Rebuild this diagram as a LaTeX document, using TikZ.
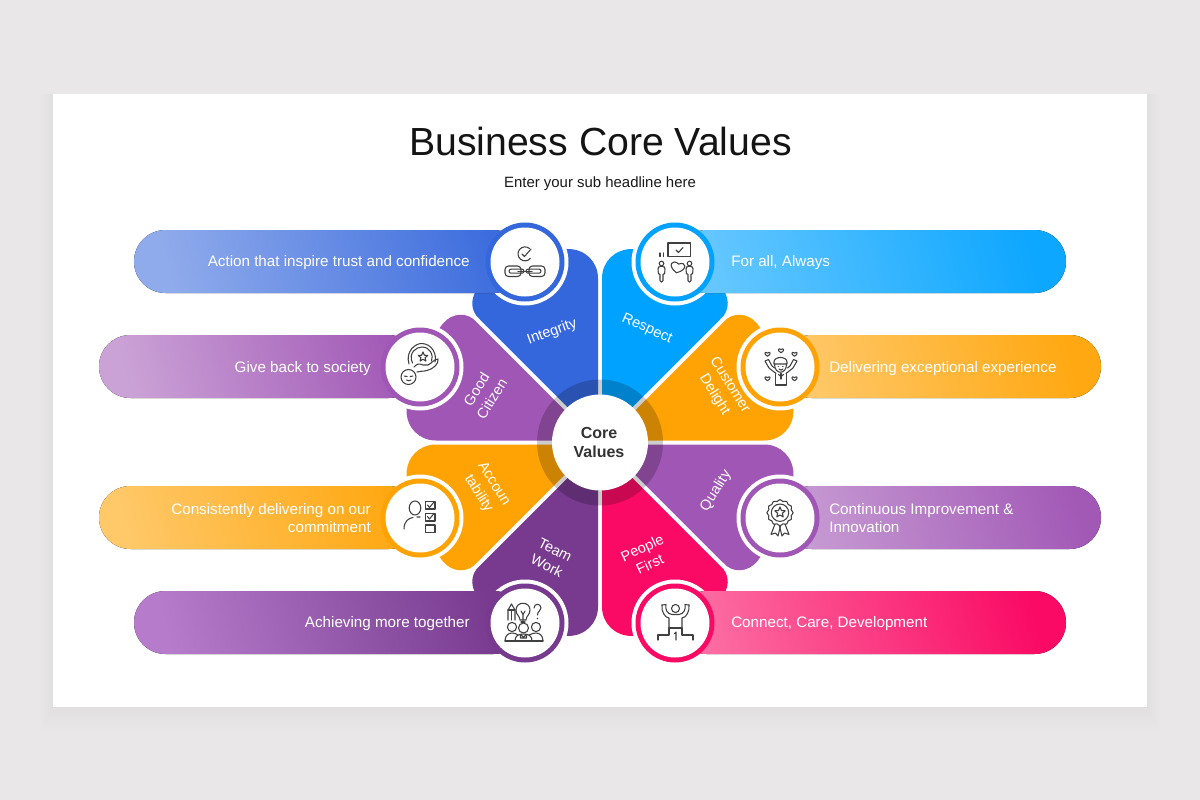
\documentclass[tikz,border=0pt]{standalone}
\usepackage{fontspec}
\setmainfont{Liberation Sans}
\definecolor{pageg}{HTML}{E9E7E8}
\definecolor{icon}{HTML}{404040}
\definecolor{cBlue}{HTML}{3567DC}
\definecolor{cSky}{HTML}{00A2FF}
\definecolor{cOrange}{HTML}{FFA304}
\definecolor{cPurple}{HTML}{A056B5}
\definecolor{cPink}{HTML}{FA0A64}
\definecolor{cDeep}{HTML}{773A8F}
\definecolor{lDeep}{HTML}{B67CCB}
\tikzset{
  ic/.style={draw=icon,line width=.8pt,line join=round,line cap=round},
  bartext/.style={text=white,font=\fontsize{11.4pt}{13.9pt}\selectfont,inner sep=0pt},
  petaltext/.style={text=white,font=\fontsize{10.9pt}{13.6pt}\selectfont,align=center,inner sep=0pt},
  barshape/.style={shading angle=105,rounded corners=23.6pt},
}
\newcommand{\petalshape}[4]{%
  \begin{scope}[shift={(600,442.5)},xscale=#2,yscale=#3,cm={#4,(0,0)}]
    \fill[#1] (-2,-5) -- (-2,-164) .. controls (-2,-181) and (-15,-193.5) .. (-32,-193.5)
      .. controls (-60,-193.5) and (-92,-178) .. (-119,-157)
      .. controls (-130,-148) and (-131,-132) .. (-120,-123) -- cycle;
  \end{scope}}
\newcommand{\ringdisc}[3]{%
  \fill[#3] (#1,#2) circle[radius=39.5];
  \fill[white] (#1,#2) circle[radius=34.5];}
\newcommand{\whitering}[2]{\fill[white] (#1,#2) circle[radius=43.5];}
\newcommand{\icstar}[3]{%
  \draw[ic] plot[samples at={0,1,...,9},variable=\t]
   ({#1+(mod(\t,2)==0?#3:#3*.45)*cos(-90+36*\t)},{#2+(mod(\t,2)==0?#3:#3*.45)*sin(-90+36*\t)}) -- cycle;}
\newcommand{\icheart}[3]{%
  \begin{scope}[shift={(#1,#2)}]
  \draw[ic] (0,#3*.9) .. controls (-1.7*#3,-.1*#3) and (-.9*#3,-1.2*#3) .. (0,-.35*#3)
     .. controls (.9*#3,-1.2*#3) and (1.7*#3,-.1*#3) .. (0,#3*.9);
  \end{scope}}
\newcommand{\icperson}[2]{%
  \draw[ic] (#1,#2-6.5) circle[radius=2.3];
  \draw[ic,rounded corners=1pt] (#1-1.5,#2+12) -- (#1-1.5,#2+3) -- (#1-3,#2+5) -- (#1-3.6,#2-2.5) -- (#1-2,#2-3.6) -- (#1+2,#2-3.6) -- (#1+3.6,#2-2.5) -- (#1+3,#2+5) -- (#1+1.5,#2+3) -- (#1+1.5,#2+12) -- cycle;}
\begin{document}
\begin{tikzpicture}[x=0.75pt,y=-0.75pt]
\useasboundingbox (0,0) rectangle (1200,800);
\fill[pageg] (0,0) rectangle (1200,800);
% card shadow
\foreach \d in {16,14,...,2}{
  \fill[black,opacity=.005] (53-\d*.8,94) rectangle (1147+\d*.8,707+\d*1.5);}
\fill[white] (53,94) rectangle (1147,707);
% titles
\node[inner sep=0pt,text=black!92,font=\fontsize{29.4pt}{33pt}\selectfont] (title) at (600.5,141.5) {Business Core Values};
\node[inner sep=0pt,text=black!90,font=\fontsize{11.2pt}{13pt}\selectfont] (subtitle) at (600,184) {Enter your sub headline here};
% petals
\petalshape{cBlue}{1}{1}{1,0,0,1}
\petalshape{cPurple}{1}{1}{0,-1,-1,0}
\petalshape{cSky}{-1}{1}{1,0,0,1}
\petalshape{cOrange}{-1}{1}{0,-1,-1,0}
\petalshape{cDeep}{1}{-1}{1,0,0,1}
\petalshape{cOrange}{1}{-1}{0,-1,-1,0}
\petalshape{cPink}{-1}{-1}{1,0,0,1}
\petalshape{cPurple}{-1}{-1}{0,-1,-1,0}
% centre ring
\fill[black,opacity=.2] (600,442.5) circle[radius=63];
\fill[white] (600,442.5) circle[radius=48];
% white rings
\whitering{525}{262}\whitering{675}{262}\whitering{420}{367}\whitering{780}{367}
\whitering{420}{518}\whitering{780}{518}\whitering{525}{623}\whitering{675}{623}
% bars
\fill[left color=cBlue!55!white,right color=cBlue!96!white,barshape] (134,230) rectangle (525,293);
\fill[left color=cSky!60!white,right color=cSky!95!white,barshape] (675,230) rectangle (1066,293);
\fill[left color=cPurple!55!white,right color=cPurple!98!white,barshape] (99,335) rectangle (420,398);
\fill[left color=cOrange!60!white,right color=cOrange!95!white,barshape] (780,335) rectangle (1101,398);
\fill[left color=cOrange!60!white,right color=cOrange!95!white,barshape] (99,486) rectangle (420,549);
\fill[left color=cPurple!60!white,right color=cPurple!98!white,barshape] (780,486) rectangle (1101,549);
\fill[left color=lDeep,right color=cDeep,barshape] (134,591) rectangle (525,654);
\fill[left color=cPink!60!white,right color=cPink,barshape] (675,591) rectangle (1066,654);
% rings and discs
\ringdisc{525}{262}{cBlue}\ringdisc{675}{262}{cSky}\ringdisc{420}{367}{cPurple}\ringdisc{780}{367}{cOrange}
\ringdisc{420}{518}{cOrange}\ringdisc{780}{518}{cPurple}\ringdisc{525}{623}{cDeep}\ringdisc{675}{623}{cPink}
% centre text
\node[inner sep=0pt,align=center,text=black!80,font=\bfseries\fontsize{12pt}{14.4pt}\selectfont] (core) at (599,442.5) {Core\\Values};
% bar texts
\node[bartext,anchor=east] (t1) at (470,263) {Action that inspire trust and confidence};
\node[bartext,anchor=west] (t2) at (731,263) {For all, Always};
\node[bartext,anchor=east] (t3) at (371,368.5) {Give back to society};
\node[bartext,anchor=west] (t4) at (829,368.5) {Delivering exceptional experience};
\node[bartext,anchor=east,align=right] (t5) at (371,518) {Consistently delivering on our\\commitment};
\node[bartext,anchor=west,align=left] (t6) at (829,518) {Continuous Improvement \&\\Innovation};
\node[bartext,anchor=east] (t7) at (470,623.5) {Achieving more together};
\node[bartext,anchor=west] (t8) at (731,623.5) {Connect, Care, Development};
% petal texts
\node[petaltext,rotate=20] (p1) at (552,332) {Integrity};
\node[petaltext,rotate=-24] (p2) at (647,329) {Respect};
\node[petaltext,rotate=58] (p3) at (484,394) {Good\\Citizen};
\node[petaltext,rotate=-58] (p4) at (722,390) {Customer\\Delight};
\node[petaltext,rotate=-58] (p5) at (486,489) {Accoun\\tability};
\node[petaltext,rotate=58] (p6) at (716,491) {Quality};
\node[petaltext,rotate=-27] (p7) at (551,558) {Team\\Work};
\node[petaltext,rotate=25] (p8) at (646,556) {People\\First};
% ICONS
\begin{scope}[shift={(525,262)}]
  \draw[ic] (4.5,-13.5) arc[start angle=-50,end angle=-320,radius=7] ;
  \draw[ic] (-3,-8) -- (-.5,-5.5) -- (6,-13);
  \draw[ic,rounded corners=2.6pt] (-20,4) rectangle (-4,14.5);
  \draw[ic,rounded corners=2.6pt] (4,4) rectangle (20,14.5);
  \draw[ic,rounded corners=1.5pt] (-16,7.2) rectangle (-1,11.2);
  \draw[ic,rounded corners=1.5pt] (1,7.2) rectangle (16,11.2);
  \draw[ic] (-7,9.2) -- (7,9.2);
\end{scope}
\begin{scope}[shift={(675,262)}]
  \draw[ic] (-7,-19) rectangle (15.5,-5.5);
  \draw[ic] (1,-12) -- (3.5,-9.5) -- (8,-14.5);
  \draw[ic] (-15,-9) -- (-15,-5.5) (-11.8,-9) -- (-11.8,-5.5);
  \icperson{-13.5}{8}
  \icperson{14.5}{8}
  \draw[ic,rotate around={-15:(3,5)}] (3,11) .. controls (-9,6) and (-4,-2) .. (3,2) .. controls (9,-3) and (14,5) .. (3,11);
\end{scope}
\begin{scope}[shift={(420,367)}]
  \draw[ic] (-11,-3) .. controls (-15,-16) and (-4,-24) .. (2,-23.5) .. controls (12,-23) and (17,-13) .. (15,-5);
  \draw[ic] (-7.5,-4) .. controls (-12,-14) and (-4,-20) .. (2,-20) .. controls (10,-20) and (14,-12) .. (11.5,-6);
  \icstar{3}{-10}{5}
  \draw[ic] (-6,0) .. controls (-3,-3) and (-1,-4) .. (3,-2) -- (8,-2) .. controls (11,-3) and (14,-8) .. (18,-8) .. controls (19,-3) and (13,2) .. (7,3.5) .. controls (3,4.5) and (0,4) .. (-3,5);
  \draw[ic] (-11.5,10) circle[radius=7.5];
  \draw[ic] (-15.5,9) -- (-12.8,9.6) (-9.8,9.6) -- (-7.2,9);
  \draw[ic] (-13.5,13) .. controls (-12,14) and (-10.5,14) .. (-9,13);
\end{scope}
\begin{scope}[shift={(780,367)}]
  \icheart{-12.5}{-13}{2.6}\icheart{1}{-16.5}{2.6}\icheart{14.5}{-13}{2.6}
  \icheart{-12.5}{11.5}{2.6}\icheart{14.5}{11.5}{2.6}
  \draw[ic] (-5.5,-3) .. controls (-5.5,8) and (6.5,8) .. (6.5,-3);
  \draw[ic] (-6,-5) .. controls (-6,-11) and (7,-11) .. (7,-5) -- (7,-3) -- (-6,-3) -- cycle;
  \fill[icon] (-1.8,-.5) circle[radius=.7] (2.8,-.5) circle[radius=.7];
  \draw[ic] (-1,2) .. controls (0,3.5) and (2,3.5) .. (3,2);
  \draw[ic] (-4,6.5) -- (-11,1) -- (-15,-6) -- (-11.5,-7.5) -- (-8,-1) -- (-5.5,1);
  \draw[ic] (6,6.5) -- (13,1) -- (17,-6) -- (13.5,-7.5) -- (10,-1) -- (7.5,1);
  \draw[ic] (-4.5,6.5) -- (-4.5,18) -- (6.5,18) -- (6.5,6.5);
  \draw[ic] (1,6.5) -- (1,12);
  \draw[ic] (-1.5,7.5) -- (1,9.5) -- (3.5,7.5);
\end{scope}
\begin{scope}[shift={(420,518)}]
  \draw[ic] (-5,-10) ellipse[x radius=5.8,y radius=7];
  \draw[ic] (-16,11) .. controls (-16,3) and (-11,0) .. (-7,-.5) (-3,-1) -- (0,-1);
  \draw[ic] (5.5,-16.5) rectangle (15,-9);
  \draw[ic] (7.5,-13) -- (9.5,-10.5) -- (14,-16);
  \draw[ic] (5.5,-4.7) rectangle (15,3);
  \draw[ic] (7.5,-1.5) -- (9.5,1) -- (14,-4.5);
  \draw[ic] (5.5,7) rectangle (15,14.7);
\end{scope}
\begin{scope}[shift={(780,518)}]
  \draw[ic] plot[smooth cycle,samples at={0,7.5,...,352.5},variable=\t] ({(12.3+.8*cos(12*\t))*cos(\t)},{-5.3+(12.3+.8*cos(12*\t))*sin(\t)});
  \draw[ic] (0,-5.3) circle[radius=8.7];
  \icstar{0}{-5.5}{5.5}
  \draw[ic] (-5,6) -- (-9,16.5) -- (-4.5,15) -- (-2,18) -- (0.5,8);
  \draw[ic] (5,6) -- (9,16.5) -- (4.5,15) -- (2,18) -- (-.5,8);
\end{scope}
\begin{scope}[shift={(525,623)}]
  \draw[ic] (-17,-3) -- (-17,-13) -- (-13.5,-19) -- (-10,-13) -- (-10,-3);
  \draw[ic] (-17,-13) -- (-10,-13) (-13.5,-13) -- (-13.5,-3);
  \draw[ic] (-5,-3) .. controls (-5,-7) and (-9,-8) .. (-9,-13) .. controls (-9,-22) and (5,-22) .. (5,-13) .. controls (5,-8) and (1,-7) .. (1,-3) -- cycle;
  \draw[ic] (-4,-1) -- (0,-1);
  \draw[ic] (-4,-12) -- (-2,-8.5) -- (0,-12) (-2,-8.5) -- (-2,-3);
  \draw[ic] (9,-15) .. controls (9,-20) and (16,-20) .. (16,-15) .. controls (16,-12) and (12.5,-12) .. (12.5,-8);
  \fill[icon] (12.5,-4.5) circle[radius=.8];
  \draw[ic] (-13,4) circle[radius=4.6];
  \draw[ic] (-1.5,5) circle[radius=5];
  \draw[ic] (11,4) circle[radius=4.6];
  \draw[ic] (-20,18) .. controls (-20,12) and (-16,10) .. (-13,10) .. controls (-11,10) and (-9,10.5) .. (-7,12);
  \draw[ic] (18,18) .. controls (18,12) and (14,10) .. (11,10) .. controls (9,10) and (7,10.5) .. (4,12);
  \draw[ic] (-10,18) .. controls (-10,13) and (-7,11) .. (-1.5,11) .. controls (4,11) and (7,13) .. (7,18);
  \draw[ic] (-20,18) -- (18,18);
  \draw[ic] (-4.5,11.5) -- (-1.5,14) -- (1.5,11.5) -- (1.5,15) -- (-4.5,15) -- cycle;
\end{scope}
\begin{scope}[shift={(675,623)}]
  \draw[ic] (0.5,-14.5) circle[radius=4];
  \draw[ic] (-13,-18) .. controls (-14,-12) and (-10,-5) .. (-6,-5) -- (-6,5);
  \draw[ic] (14,-18) .. controls (15,-12) and (11,-5) .. (7,-5) -- (7,5);
  \draw[ic] (-13,-18) -- (-9,-18.5) .. controls (-10,-14) and (-8,-9) .. (-3,-8.5) -- (4,-8.5) .. controls (9,-9) and (11,-14) .. (10,-18.5) -- (14,-18);
  \draw[ic] (-17,17) -- (-17,12) -- (-6,12) -- (-6,5) -- (7,5) -- (7,12) -- (18,12) -- (18,17);
  \draw[ic] (-.5,10.5) -- (1,9) -- (1,17);
\end{scope}
\end{tikzpicture}
\end{document}
